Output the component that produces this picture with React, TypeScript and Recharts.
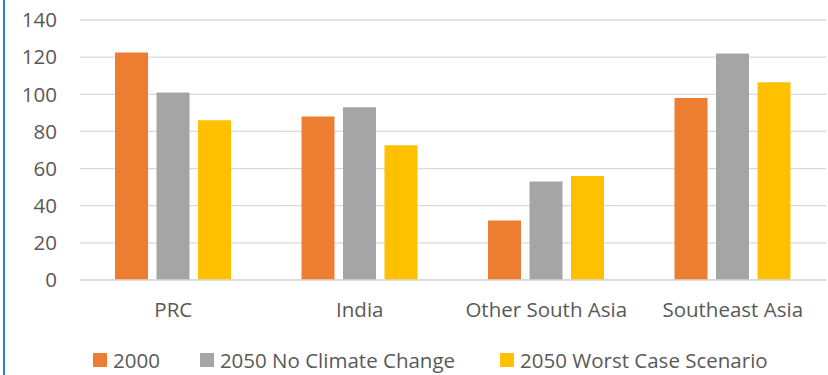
import React from "react";
import {
  BarChart,
  Bar,
  XAxis,
  YAxis,
  CartesianGrid,
  Legend,
} from "recharts";

const regions = ["PRC", "India", "Other South Asia", "Southeast Asia"];
const base2000 = [122.5, 88, 32, 98];
const noClimateChange = [101, 93, 53, 122];
const worstCase = [86, 72.5, 56, 106.5];
const yTicks = [0, 20, 40, 60, 80, 100, 120, 140];

const seriesInfo = [
  { key: "y2000", name: "2000", color: "#ED7D31" },
  { key: "noCC", name: "2050 No Climate Change", color: "#A5A5A5" },
  { key: "worst", name: "2050 Worst Case Scenario", color: "#FFC000" },
];

const data = regions.map((r, i) => ({
  region: r,
  y2000: base2000[i],
  noCC: noClimateChange[i],
  worst: worstCase[i],
}));

const FONT = "'Open Sans', sans-serif";
const TEXT = "#595959";

const renderLegend = () => (
  <div
    style={{
      height: 50,
      boxSizing: "border-box",
      paddingTop: 20,
      paddingLeft: 93,
      display: "flex",
      alignItems: "center",
      fontFamily: FONT,
      fontSize: 20.5,
      lineHeight: "22px",
      color: TEXT,
      whiteSpace: "nowrap",
    }}
  >
    {seriesInfo.map((s, i) => (
      <div
        key={s.key}
        style={{
          display: "flex",
          alignItems: "center",
          marginRight: i === 0 ? 40 : 45,
        }}
      >
        <span
          style={{
            display: "inline-block",
            width: 14,
            height: 14,
            background: s.color,
            marginRight: 6,
          }}
        />
        <span>{s.name}</span>
      </div>
    ))}
  </div>
);

const App = () => {
  return (
    <div
      style={{
        position: "absolute",
        left: 0,
        top: 0,
        width: 828,
        height: 375,
        background: "#fff",
        overflow: "hidden",
      }}
    >
      <div
        style={{
          position: "absolute",
          left: 3,
          top: 0,
          width: 2,
          height: 375,
          background: "#2F7ED8",
          zIndex: 2,
        }}
      />
      <BarChart
        width={828}
        height={375}
        data={data}
        margin={{ top: 20, right: 2, bottom: 0, left: 0 }}
        barSize={33}
        barGap={8.5}
      >
        <CartesianGrid vertical={false} stroke="#D9D9D9" strokeWidth={1.3} />
        <XAxis
          dataKey="region"
          height={45}
          axisLine={{ stroke: "#D9D9D9", strokeWidth: 1.3 }}
          tickLine={false}
          tickSize={0}
          tickMargin={22}
          tick={{ fill: TEXT, fontSize: 20.5, fontFamily: FONT }}
        />
        <YAxis
          width={80}
          domain={[0, 140]}
          ticks={yTicks}
          axisLine={false}
          tickLine={false}
          tickSize={0}
          tickMargin={23}
          tick={{ fill: TEXT, fontSize: 20.5, fontFamily: FONT }}
        />
        <Legend verticalAlign="bottom" content={renderLegend} />
        {seriesInfo.map((s) => (
          <Bar
            key={s.key}
            dataKey={s.key}
            name={s.name}
            fill={s.color}
            isAnimationActive={false}
          />
        ))}
      </BarChart>
    </div>
  );
};

export default App;
